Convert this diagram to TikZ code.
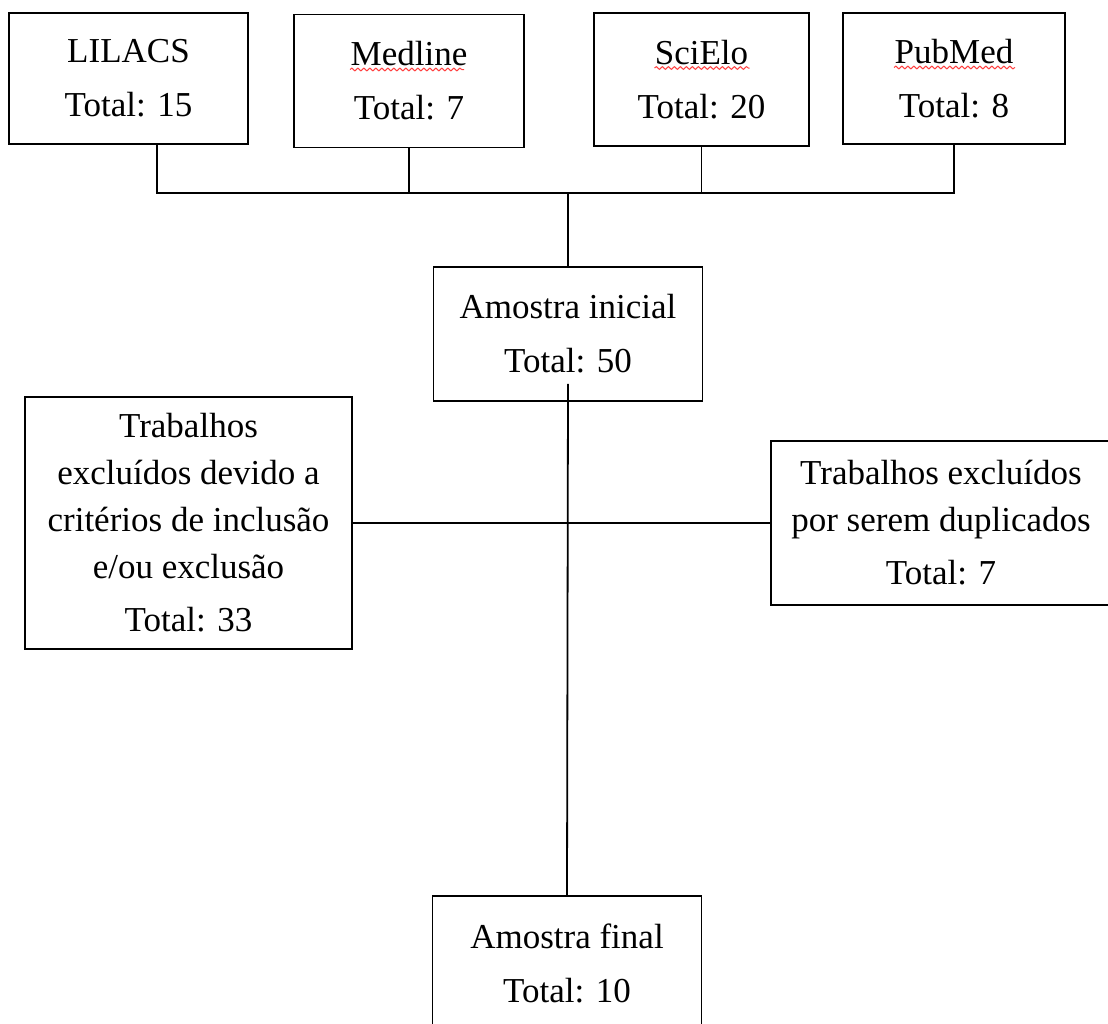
\documentclass[tikz,border=0pt]{standalone}
\usepackage{fontspec}
\setmainfont{Liberation Serif}
\usepackage{tikz}
\usetikzlibrary{calc, positioning, decorations.pathmorphing}

\begin{document}
\begin{tikzpicture}[
    x=0.5pt,   % 1 unit = 1 px of the layout
    y=-0.5pt,  % y grows downwards
    box/.style={draw, line width=0.9pt, align=center, inner sep=0pt,
        font=\fontsize{17.5}{23.5}\selectfont},
    link/.style={line width=0.9pt},
    squig/.style={red!75, line width=0.5pt, decorate,
        decoration={snake, amplitude=0.7pt, segment length=3pt}}
]
    \useasboundingbox (0,0) rectangle (1108,1023);

    % --- bases de dados ---
    \node[box, minimum width=119.5pt, minimum height=65.5pt] (lilacs) at (128.5,78.5) {LILACS\\[3.5pt]Total: 15};
    \node[box, minimum width=115pt, minimum height=66.5pt] (medline) at (409,81) {Medline\\[3.5pt]Total: 7};
    \node[box, minimum width=107.5pt, minimum height=66.5pt] (scielo) at (701.5,79.5) {SciElo\\[3.5pt]Total: 20};
    \node[box, minimum width=111pt, minimum height=65.5pt] (pubmed) at (954,78.5) {PubMed\\[3.5pt]Total: 8};

    % --- sublinhado do corretor ---
    \draw[squig] ($(medline.center)+(-59,-11.5)$) -- ++(114,0);
    \draw[squig] ($(scielo.center)+(-47,-11.5)$) -- ++(95,0);
    \draw[squig] ($(pubmed.center)+(-60,-11)$) -- ++(121,0);

    % --- amostras ---
    \node[box, minimum width=134.5pt, minimum height=67pt] (inicial) at (568,334) {Amostra inicial\\[3.5pt]Total: 50};
    \node[box, minimum width=134.5pt, minimum height=67pt] (final) at (567,963) {Amostra final\\[3.5pt]Total: 10};

    % --- exclusoes ---
    \node[box, minimum width=163.5pt, minimum height=126pt] (excl1) at (188.5,523)
        {Trabalhos\\excluídos devido a\\critérios de inclusão\\e/ou exclusão\\[3pt]Total: 33};
    \node[box, minimum width=170pt, minimum height=82pt] (excl2) at (941,523)
        {Trabalhos excluídos\\por serem duplicados\\[3pt]Total: 7};

    % --- ligacoes ---
    \coordinate (bus) at (568,193);
    \draw[link] ([xshift=14.25pt]lilacs.south) |- (pubmed.south |- bus) -- (pubmed.south);
    \draw[link] (medline.south) -- (medline.south |- bus);
    \draw[link] (scielo.south) -- (scielo.south |- bus);
    \draw[link] (bus) -- (inicial.north);

    \draw[link] ($(inicial.south)+(0,-18)$) -- (final.north);
    \draw[link] (excl1.east) -- (excl2.west);

\end{tikzpicture}
\end{document}
